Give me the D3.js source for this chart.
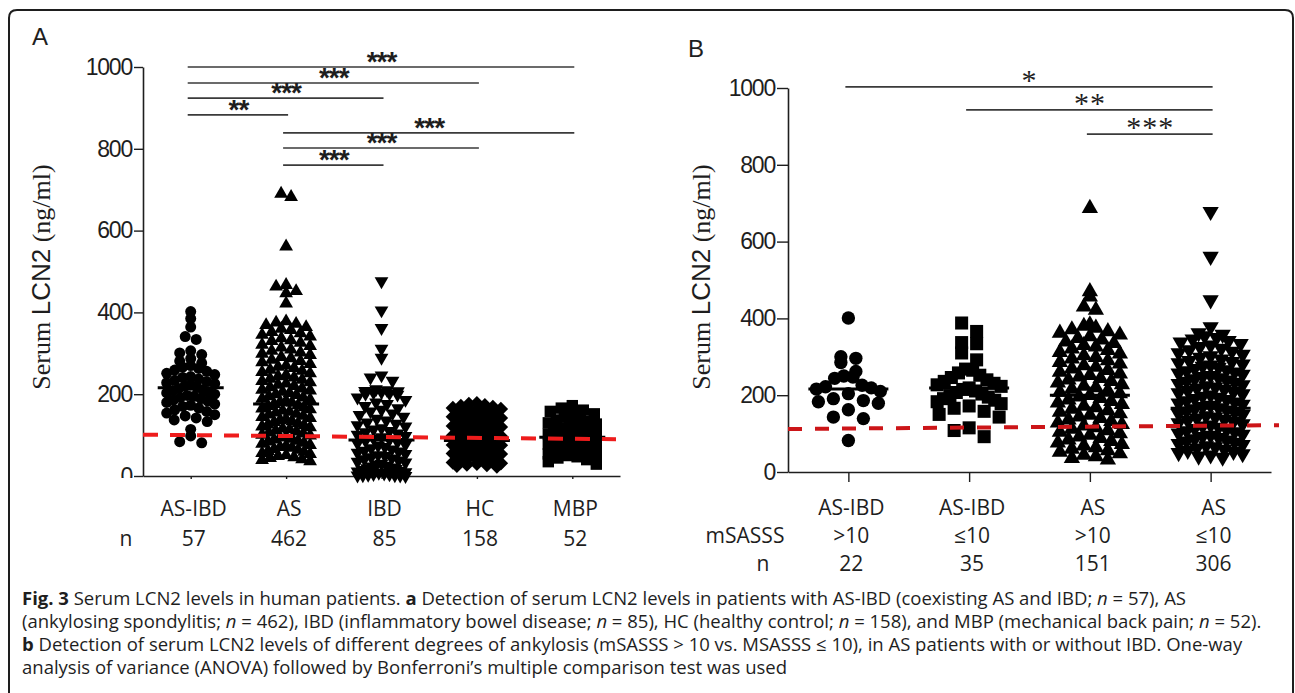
<!DOCTYPE html>
<html>
<head>
<meta charset="utf-8">
<script src="https://cdn.jsdelivr.net/npm/d3@7"></script>
<style>
body { margin: 0; background: #fff; }
svg { display: block; }
</style>
</head>
<body>
<script>
const W = 1295, H = 693;

// ---- data ----
const yTicks = [0, 200, 400, 600, 800, 1000];

// panel A
const groupsA = ["AS-IBD", "AS", "IBD", "HC", "MBP"];
const countsA = ["57", "462", "85", "158", "52"];
const asIbdA = [402, 385, 364, 341, 334, 306, 301, 297, 287, 281, 276, 270, 266, 263, 259, 256, 251, 248, 243, 241,
  237, 234, 231, 228, 226, 222, 220, 217, 214, 211, 209, 205, 203, 200, 197, 195, 192, 189, 186, 183,
  180, 176, 173, 170, 166, 162, 158, 154, 150, 147, 142, 137, 133, 114, 98, 84, 81];
const asA = [690, 682, 561, 467, 463, 452, 447, 422, 378, 375, 372, 369, 364, 360, 357, 352, 349, 345, 341, 337,
  332, 330, 326, 321, 318, 314, 309, 306, 302, 299, 296, 291, 288, 284, 281, 278, 274, 270, 267, 264,
  260, 257, 254, 251, 247, 244, 241, 238, 235, 232, 229, 226, 223, 220, 217, 214, 211, 209, 206, 203,
  200, 198, 195, 192, 189, 187, 184, 181, 179, 176, 173, 171, 168, 165, 163, 160, 157, 155, 152, 150,
  147, 144, 142, 139, 137, 134, 132, 129, 126, 124, 121, 119, 116, 114, 111, 109, 106, 104, 101, 99,
  96, 94, 91, 89, 86, 84, 81, 79, 76, 74, 71, 69, 66, 64, 61, 59, 56, 54, 51, 49, 46, 44, 41, 39, 36];
const ibdA = [476, 405, 362, 311, 289, 246, 241, 233, 212, 210, 208, 207, 205, 204, 202, 201, 199, 192, 186, 180,
  176, 171, 166, 162, 158, 153, 149, 145, 140, 136, 131, 128, 124, 121, 117, 114, 110, 107, 104, 101,
  98, 95, 92, 89, 86, 83, 80, 77, 74, 71, 68, 65, 62, 60, 57, 54, 51, 49, 46, 43,
  41, 38, 35, 33, 30, 28, 25, 23, 21, 19, 17, 15, 13, 11, 9, 8, 6, 5, 4, 3, 2, 2, 1, 1, 0];
const hcA = [178, 176, 173, 171, 169, 166, 164, 161, 158, 156, 154, 151, 149, 147, 145, 142, 140, 138, 136, 134,
  132, 130, 128, 126, 124, 122, 120, 118, 116, 115, 113, 111, 109, 107, 106, 104, 102, 100, 99, 97,
  95, 94, 92, 90, 89, 87, 86, 84, 82, 81, 79, 78, 76, 75, 73, 72, 70, 69, 67, 66,
  64, 63, 61, 60, 58, 57, 55, 54, 52, 51, 49, 48, 46, 45, 43, 42, 40, 39, 37, 36, 34, 33, 31, 30, 28, 27, 25, 23];
const mbpA = [172, 166, 161, 158, 152, 148, 145, 141, 137, 133, 130, 127, 124, 121, 118, 115, 113, 110, 108, 105,
  103, 101, 98, 96, 94, 92, 90, 88, 86, 84, 82, 80, 78, 76, 74, 72, 70, 68, 66, 64,
  62, 60, 58, 56, 54, 52, 50, 47, 44, 40, 35, 29];
const meansA = [216, 176, 88, 87, 95];
const cutoffA = [101, 90];
// [from, to, stars, level]
const sigA = [[0, 4, "***", 1000], [0, 3, "***", 961], [0, 2, "***", 924], [0, 1, "**", 883],
  [1, 4, "***", 839], [1, 3, "***", 802], [1, 2, "***", 760]];

// panel B
const groupsB = ["AS-IBD", "AS-IBD", "AS", "AS"];
const scoreB = [">10", "≤10", ">10", "≤10"];
const countsB = ["22", "35", "151", "306"];
const asIbdHiB = [401, 300, 296, 285, 262, 250, 247, 244, 226, 222, 219, 216, 210, 204, 191, 186, 183, 179, 162, 143, 139, 82];
const asIbdLoB = [388, 366, 337, 334, 310, 292, 268, 265, 258, 252, 246, 240, 236, 231, 227, 223, 219, 215, 211, 207,
  203, 199, 195, 191, 187, 183, 178, 172, 166, 158, 150, 143, 115, 108, 92];
const asHiB = [687, 470, 456, 430, 422, 384, 380, 375, 371, 366, 362, 357, 353, 348, 344, 339, 335, 330, 326, 321,
  317, 312, 308, 303, 299, 295, 290, 286, 282, 277, 273, 269, 265, 260, 256, 252, 248, 244, 240, 236,
  232, 228, 224, 220, 216, 212, 208, 204, 200, 196, 192, 188, 184, 180, 176, 172, 168, 164, 160, 156,
  152, 148, 144, 140, 136, 132, 128, 124, 120, 116, 112, 108, 104, 100, 96, 92, 88, 84, 80, 76,
  72, 68, 64, 60, 56, 52, 48, 44, 40, 36, 32];
const asLoB = [678, 561, 448, 378, 362, 358, 354, 350, 346, 342, 338, 334, 330, 326, 322, 318, 314, 310, 306, 302,
  298, 294, 290, 287, 284, 281, 278, 275, 272, 269, 266, 263, 260, 257, 254, 251, 248, 245, 242, 239,
  236, 233, 230, 227, 224, 221, 218, 215, 212, 209, 206, 203, 200, 197, 194, 191, 188, 185, 182, 179,
  176, 173, 170, 167, 164, 161, 158, 155, 152, 149, 146, 143, 140, 137, 134, 131, 128, 125, 122, 119,
  116, 113, 110, 107, 104, 101, 98, 95, 92, 89, 86, 83, 80, 77, 74, 71, 68, 65, 62, 59,
  56, 53, 50, 47, 44, 41, 38];
const meansB = [216, 219, 200, 166];
const cutoffB = [112, 122];
const sigB = [[0, 3, "*", 1003], [1, 3, "**", 943], [2, 3, "***", 880]];

// ---- drawing ----
const INK = "#1e1e1e";
const SANS = "'Liberation Sans', Arial, sans-serif";
const LABEL = "'Open Sans', 'Noto Sans', sans-serif";

const svg = d3.select("body").append("svg").attr("width", W).attr("height", H);

// outer frame, open at the bottom
svg.append("path")
  .attr("d", "M9,700 V18 Q9,10 17,10 H1285 Q1293,10 1293,18 V700")
  .attr("fill", "none").attr("stroke", INK).attr("stroke-width", 2);

const symbols = {
  circle: s => [d3.symbol(d3.symbolCircle, s)(), ""],
  up: s => [d3.symbol(d3.symbolTriangle, s)(), ""],
  down: s => [d3.symbol(d3.symbolTriangle, s)(), " rotate(180)"],
  diamond: s => [d3.symbol(d3.symbolSquare, s)(), " rotate(45)"],
  square: s => [d3.symbol(d3.symbolSquare, s)(), ""]
};

// rows of points spread sideways, like a prism scatter plot
function swarm(vals, y, binH, sp, maxW) {
  const out = [];
  d3.groups(vals, v => Math.round(y(v) / binH)).forEach(([, row]) => {
    const n = row.length;
    const step = n > 1 ? Math.min(sp, maxW / (n - 1)) : 0;
    const slots = d3.range(n).map(k => (k - (n - 1) / 2) * step)
      .sort((a, b) => Math.abs(a) - Math.abs(b) || a - b);
    row.forEach((v, k) => out.push({ v, py: y(v), dx: slots[k] }));
  });
  return out;
}

function drawPanel(p) {
  const g = svg.append("g");
  const x = d3.scalePoint().domain(d3.range(p.series.length)).range(p.xRange).padding(0.5);
  const y = d3.scaleLinear().domain([0, 1000]).range(p.yRange);

  // panel letter
  g.append("text").attr("x", p.letterPos[0]).attr("y", p.letterPos[1])
    .attr("font-family", SANS).attr("font-size", 24).attr("fill", INK).text(p.letter);

  // y title
  const t = g.append("text")
    .attr("transform", `translate(${p.titleX},${p.titleY}) rotate(-90)`)
    .attr("text-anchor", "middle").attr("font-size", 26).attr("fill", INK);
  t.append("tspan").attr("font-family", "'Liberation Serif', serif").text("Serum ");
  t.append("tspan").attr("font-family", SANS).text("LCN2");
  t.append("tspan").attr("font-family", "'Liberation Serif', serif").text(" (ng/ml)");

  // axes
  const yAxis = g.append("g")
    .attr("transform", `translate(${p.xRange[0]},0)`)
    .call(d3.axisLeft(y).tickValues(yTicks).tickFormat(d3.format("d"))
      .tickSize(p.yTick).tickSizeOuter(0).tickPadding(2));
  yAxis.select(".domain").attr("stroke", INK).attr("stroke-width", 1.6);
  yAxis.selectAll(".tick line").attr("stroke", INK).attr("stroke-width", 1.4);
  yAxis.selectAll(".tick text").attr("font-family", SANS).attr("font-size", 23)
    .attr("letter-spacing", -1.2).attr("fill", INK);
  if (p.clipZero) {
    const id = "clip" + p.letter;
    svg.append("clipPath").attr("id", id).append("rect")
      .attr("x", -200).attr("y", -10).attr("width", 400).attr("height", p.yRange[0] + 12);
    yAxis.attr("clip-path", `url(#${id})`);
  }

  const xAxis = g.append("g")
    .attr("transform", `translate(0,${p.yRange[0]})`)
    .call(d3.axisBottom(x).tickSize(p.xTick).tickSizeOuter(0).tickFormat(""));
  xAxis.select(".domain").attr("stroke", INK).attr("stroke-width", 1.6);
  xAxis.selectAll(".tick line").attr("stroke", INK).attr("stroke-width", 1.4);

  // points
  p.series.forEach((vals, i) => {
    const [d, rot] = symbols[p.shapes[i]](p.sizes[i]);
    g.append("g").selectAll("path")
      .data(swarm(vals, y, p.binH[i], p.spacing[i], p.maxW))
      .join("path")
      .attr("d", d)
      .attr("transform", e => `translate(${x(i) + e.dx},${e.py})${rot}`)
      .attr("fill", "#000");
  });

  // mean lines
  g.append("g").selectAll("line").data(p.means).join("line")
    .attr("x1", (m, i) => x(i) - p.meanHalf).attr("x2", (m, i) => x(i) + p.meanHalf)
    .attr("y1", m => y(m)).attr("y2", m => y(m))
    .attr("stroke", "#000").attr("stroke-width", 3);

  // cut-off
  g.append("line")
    .attr("x1", p.xRange[0]).attr("x2", p.xRange[1] + p.dashOver)
    .attr("y1", y(p.cutoff[0])).attr("y2", y(p.cutoff[1]))
    .attr("stroke", p.dashColor).attr("stroke-width", 4)
    .attr("stroke-dasharray", p.dash);

  // significance bars
  p.sig.forEach(([a, b, s, lvl]) => {
    g.append("line")
      .attr("x1", x(a) - 3).attr("x2", x(b) + 2)
      .attr("y1", y(lvl)).attr("y2", y(lvl))
      .attr("stroke", "#3a3a3a").attr("stroke-width", 1.6);
    g.append("text")
      .attr("x", (x(a) + x(b)) / 2).attr("y", y(lvl) - p.starLift)
      .attr("text-anchor", "middle")
      .attr("font-family", p.starFont).attr("font-weight", p.starWeight)
      .attr("font-size", p.starSize).attr("letter-spacing", p.starGap)
      .attr("fill", INK).text(s);
  });

  // category rows
  p.rows.forEach(row => {
    if (row.head) {
      g.append("text").attr("x", row.headX).attr("y", row.y).attr("text-anchor", "middle")
        .attr("font-family", LABEL).attr("font-size", 21).attr("fill", INK).text(row.head);
    }
    g.append("g").selectAll("text").data(row.labels).join("text")
      .attr("x", (l, i) => x(i) + p.labelShift).attr("y", row.y)
      .attr("text-anchor", "middle")
      .attr("font-family", LABEL).attr("font-size", 21).attr("fill", INK)
      .text(l => l);
  });
}

drawPanel({
  letter: "A", letterPos: [32, 45],
  titleX: 50, titleY: 277,
  xRange: [143, 620], yRange: [476, 67], yTick: 9, xTick: 3, clipZero: true,
  series: [asIbdA, asA, ibdA, hcA, mbpA],
  shapes: ["circle", "up", "down", "diamond", "square"],
  sizes: [95, 82, 82, 105, 130],
  binH: [10, 9, 9, 9, 10], spacing: [11, 10, 11, 10, 11], maxW: 48,
  means: meansA, meanHalf: 33,
  cutoff: cutoffA, dashOver: -4, dashColor: "#ee1c1c", dash: "15,12",
  sig: sigA, starLift: -4, starFont: SANS, starWeight: "bold", starSize: 28, starGap: -1,
  labelShift: 3,
  rows: [
    { y: 516, labels: groupsA },
    { y: 546, labels: countsA, head: "n", headX: 126 }
  ]
});

drawPanel({
  letter: "B", letterPos: [688, 57],
  titleX: 710, titleY: 277,
  xRange: [788, 1271], yRange: [472, 88], yTick: 11, xTick: 10, clipZero: false,
  series: [asIbdHiB, asIbdLoB, asHiB, asLoB],
  shapes: ["circle", "square", "up", "down"],
  sizes: [140, 170, 115, 115],
  binH: [16, 18, 10, 10], spacing: [15, 15, 12, 12], maxW: 64,
  means: meansB, meanHalf: 40,
  cutoff: cutoffB, dashOver: 8, dashColor: "#cc1518", dash: "14,13",
  sig: sigB, starLift: -3, starFont: "'Liberation Serif', serif", starWeight: "normal", starSize: 30, starGap: 1,
  labelShift: 3,
  rows: [
    { y: 515, labels: groupsB },
    { y: 543, labels: scoreB, head: "mSASSS", headX: 745 },
    { y: 571, labels: countsB, head: "n", headX: 763 }
  ]
});

// ---- caption ----
const cap = svg.append("g")
  .attr("font-family", LABEL).attr("font-size", 18.5).attr("fill", INK);
const capLines = [
  [["Fig. 3", "b"], [" Serum LCN2 levels in human patients. "], ["a", "b"],
   [" Detection of serum LCN2 levels in patients with AS-IBD (coexisting AS and IBD; "], ["n", "i"], [" = 57), AS"]],
  [["(ankylosing spondylitis; "], ["n", "i"], [" = 462), IBD (inflammatory bowel disease; "], ["n", "i"],
   [" = 85), HC (healthy control; "], ["n", "i"], [" = 158), and MBP (mechanical back pain; "], ["n", "i"], [" = 52)."]],
  [["b", "b"], [" Detection of serum LCN2 levels of different degrees of ankylosis (mSASSS > 10 vs. MSASSS ≤ 10), in AS patients with or without IBD. One-way"]],
  [["analysis of variance (ANOVA) followed by Bonferroni’s multiple comparison test was used"]]
];
capLines.forEach((parts, r) => {
  const t = cap.append("text").attr("x", 22).attr("y", 605 + r * 23);
  parts.forEach(([s, st]) => {
    t.append("tspan")
      .attr("font-weight", st === "b" ? "bold" : null)
      .attr("font-style", st === "i" ? "italic" : null)
      .text(s);
  });
});
</script>
</body>
</html>
